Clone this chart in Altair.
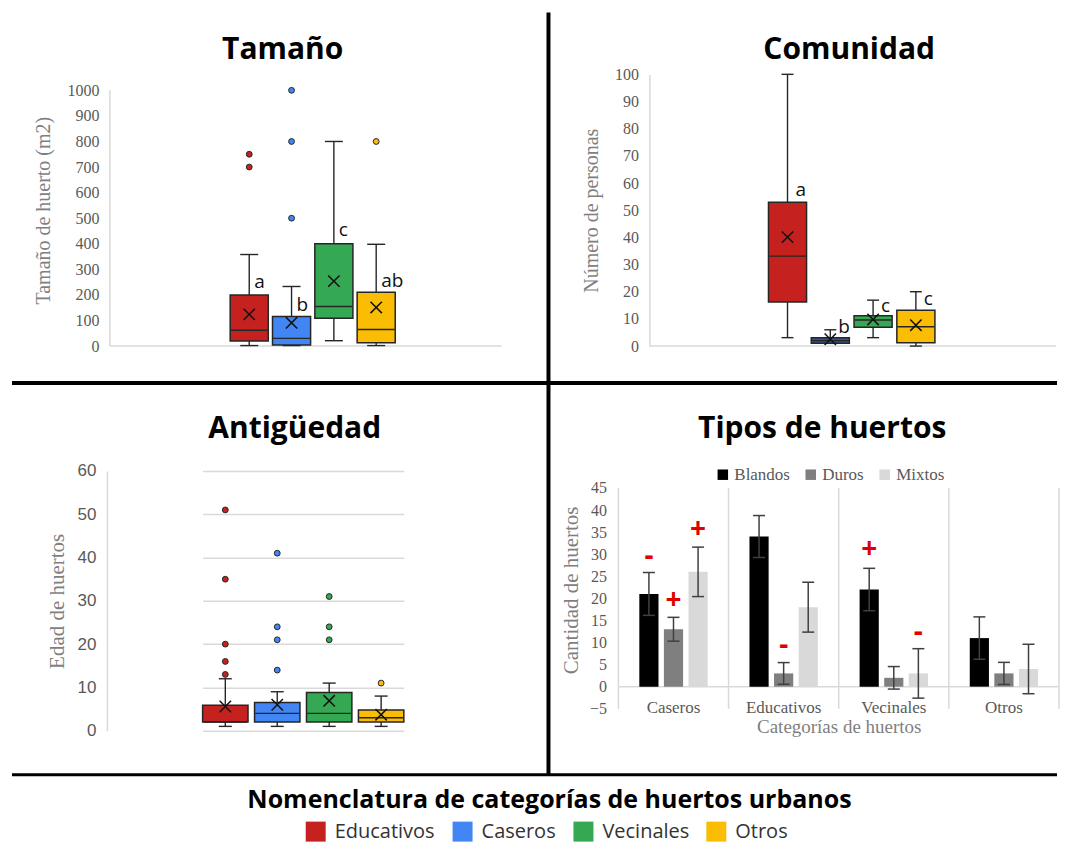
import altair as alt
import pandas as pd

# ---------------- data ----------------
categories = ["Educativos", "Caseros", "Vecinales", "Otros"]
colors_main = ["#c5221f", "#4285f4", "#34a853", "#fbbc04"]
colors_comunidad = ["#c5221f", "#2f5597", "#34a853", "#fbbc04"]

# Tamaño (m2)
tam_lo = [2, 2, 21, 2]
tam_q1 = [20, 4, 109, 13]
tam_median = [62, 30, 155, 65]
tam_q3 = [200, 116, 400, 210]
tam_hi = [358, 233, 800, 398]
tam_mean = [124, 91, 254, 151]
tam_out_cat = ["Educativos", "Educativos", "Caseros", "Caseros", "Caseros", "Otros"]
tam_out_val = [750, 700, 1000, 800, 500, 800]
tam_letters = ["a", "b", "c", "ab"]
tam_letter_y = [249, 161, 453, 254]

# Comunidad (número de personas)
com_lo = [3.1, 1.0, 3.1, 0.0]
com_q1 = [16.2, 1.0, 6.9, 1.2]
com_median = [33.1, 2.0, 9.6, 7.1]
com_q3 = [52.9, 3.1, 11.2, 13.2]
com_hi = [100, 6, 16.9, 20]
com_mean = [40.1, 2.5, 9.8, 7.7]
com_letters = ["a", "b", "c", "c"]
com_letter_y = [57.6, 6.9, 14.7, 17.2]

# Antigüedad (edad de huertos)
ant_lo = [1, 1, 1, 1]
ant_q1 = [2, 2, 2, 2]
ant_median = [2, 4, 4, 3]
ant_q3 = [5.9, 6.5, 8.8, 4.8]
ant_hi = [12, 9, 11, 8]
ant_mean = [5.6, 6.0, 6.9, 3.7]
ant_out_cat = ["Educativos"] * 5 + ["Caseros"] * 4 + ["Vecinales"] * 3 + ["Otros"]
ant_out_val = [51, 35, 20, 16, 13, 41, 24, 21, 14, 31, 24, 21, 11]

# Tipos de huertos
tipo_categories = ["Caseros", "Educativos", "Vecinales", "Otros"]
tipo_series = ["Blandos", "Duros", "Mixtos"]
tipo_colors = ["#000000", "#7f7f7f", "#d9d9d9"]
blandos = [21, 34, 22, 11]
blandos_err = [4.85, 4.75, 4.8, 4.8]
duros = [13, 3, 2, 3]
duros_err = [2.7, 2.45, 2.55, 2.5]
mixtos = [26, 18, 3, 4]
mixtos_err = [5.6, 5.65, 5.6, 5.6]
sign_cat = ["Caseros", "Caseros", "Caseros", "Educativos", "Vecinales", "Vecinales"]
sign_series = ["Blandos", "Duros", "Mixtos", "Duros", "Blandos", "Mixtos"]
sign_text = ["-", "+", "+", "-", "+", "-"]
sign_y = [29.4, 19.3, 35.5, 9.3, 30.9, 12.1]

# ---------------- styles ----------------
SERIF = "Liberation Serif"
SANS = "Open Sans"
ARIAL = "Liberation Sans"
GRID = "#d9d9d9"
DARK = "#262626"
LABEL = "#595959"
TITLEC = "#7f7f7f"
XSHAPE = "M-1,-1L1,1M-1,1L1,-1"
one = pd.DataFrame({"k": [0]})


def box_layers(stats, outliers, colors, ydomain, xrange, pad_inner, cap, yaxis,
               letter_dx, legend=None):
    xs = alt.X("cat:N", scale=alt.Scale(domain=categories, range=xrange,
                                        paddingInner=pad_inner, paddingOuter=0), axis=None)
    ys = alt.Scale(domain=ydomain, nice=False, zero=False)
    col = alt.Color("cat:N", scale=alt.Scale(domain=categories, range=colors), legend=legend)
    bw = (xrange[1] - xrange[0]) / (len(categories)) * (1 - pad_inner)
    base = alt.Chart(stats)
    layers = [
        base.mark_rule(color=DARK, strokeWidth=1.4).encode(
            x=xs, y=alt.Y("lo:Q", scale=ys, axis=yaxis), y2="q1:Q"),
        base.mark_rule(color=DARK, strokeWidth=1.4).encode(
            x=xs, y=alt.Y("q3:Q", scale=ys, axis=yaxis), y2="hi:Q"),
        base.mark_tick(color=DARK, thickness=1.4, size=cap, opacity=1).encode(
            x=xs, y=alt.Y("lo:Q", scale=ys, axis=yaxis)),
        base.mark_tick(color=DARK, thickness=1.4, size=cap, opacity=1).encode(
            x=xs, y=alt.Y("hi:Q", scale=ys, axis=yaxis)),
        base.mark_bar(stroke=DARK, strokeWidth=1.5, opacity=1).encode(
            x=xs, y=alt.Y("q1:Q", scale=ys, axis=yaxis), y2="q3:Q", color=col),
        base.mark_tick(color=DARK, thickness=1.4, size=bw, opacity=1).encode(
            x=xs, y=alt.Y("median:Q", scale=ys, axis=yaxis)),
        base.mark_point(shape=XSHAPE, size=130, filled=False, color="#111111",
                        strokeWidth=1.5, opacity=1).encode(
            x=xs, y=alt.Y("mean:Q", scale=ys, axis=yaxis)),
        base.mark_text(align="left", baseline="middle", dx=letter_dx, font=SANS,
                       fontSize=19, color="#111111").encode(
            x=xs, y=alt.Y("letter_y:Q", scale=ys, axis=yaxis), text="letter:N"),
    ]
    if outliers is not None:
        layers.append(
            alt.Chart(outliers).mark_point(shape="circle", filled=True, size=34,
                                           stroke=DARK, strokeWidth=1, opacity=1).encode(
                x=xs, y=alt.Y("val:Q", scale=ys, axis=yaxis), color=col))
    return layers


def title_text(text, x, y, size=30):
    return alt.Chart(one).mark_text(text=text, font=SANS, fontSize=size, fontWeight="bold",
                                    align="center", baseline="alphabetic",
                                    color="#000000").encode(x=alt.value(x), y=alt.value(y))


def rule_px(x, x2, y, y2, width):
    return alt.Chart(one).mark_rule(color="#000000", strokeWidth=width, clip=False).encode(
        x=alt.value(x), x2=alt.value(x2), y=alt.value(y), y2=alt.value(y2))


# ---------------- Tamaño ----------------
tam_stats = pd.DataFrame({"cat": categories, "lo": tam_lo, "q1": tam_q1, "median": tam_median,
                          "q3": tam_q3, "hi": tam_hi, "mean": tam_mean,
                          "letter": tam_letters, "letter_y": tam_letter_y})
tam_outs = pd.DataFrame({"cat": tam_out_cat, "val": tam_out_val})
tam_axis = alt.Axis(values=list(range(0, 1001, 100)), format="d", title="Tamaño de huerto (m2)",
                    grid=False, domain=False, ticks=False, offset=-3,
                    labelFont=SERIF, labelFontSize=16, labelColor=LABEL, labelPadding=11,
                    titleFont=SERIF, titleFontSize=20, titleColor=TITLEC,
                    titleFontWeight="normal", titlePadding=13)
tam_ys = alt.Scale(domain=[0, 1062.5], nice=False, zero=False)
tl = alt.layer(
    alt.Chart(one).mark_rule(color=GRID, strokeWidth=1.5).encode(
        x=alt.value(3), y=alt.Y(datum=0, scale=tam_ys, axis=tam_axis), y2=alt.datum(1000)),
    alt.Chart(one).mark_rule(color=GRID, strokeWidth=1.5).encode(
        x=alt.value(3), x2=alt.value(395), y=alt.Y(datum=0, scale=tam_ys, axis=tam_axis)),
    *box_layers(tam_stats, tam_outs, colors_main, [0, 1062.5], [123.4, 288.6], 0.1, 18,
                tam_axis, 5),
    title_text("Tamaño", 176, -15),
    rule_px(-95, 951, 309, 309, 4),
    rule_px(-95, 951, 701, 701, 3),
).properties(width=397, height=272)

# ---------------- Comunidad ----------------
com_stats = pd.DataFrame({"cat": categories, "lo": com_lo, "q1": com_q1, "median": com_median,
                          "q3": com_q3, "hi": com_hi, "mean": com_mean,
                          "letter": com_letters, "letter_y": com_letter_y})
com_axis = alt.Axis(values=list(range(0, 101, 10)), format="d", title="Número de personas",
                    grid=False, domain=True, domainColor=GRID, domainWidth=1.5,
                    ticks=False, offset=-31,
                    labelFont=SERIF, labelFontSize=16, labelColor=LABEL, labelPadding=11,
                    titleFont=SERIF, titleFontSize=20, titleColor=TITLEC,
                    titleFontWeight="normal", titlePadding=13)
com_ys = alt.Scale(domain=[0, 100], nice=False, zero=False)
tr = alt.layer(
    alt.Chart(one).mark_rule(color=GRID, strokeWidth=1.5).encode(
        x=alt.value(31), x2=alt.value(438), y=alt.Y(datum=0, scale=com_ys, axis=com_axis)),
    *box_layers(com_stats, None, colors_comunidad, [0, 100], [150.2, 316.8], 0.11, 12,
                com_axis, 8),
    title_text("Comunidad", 231, -15),
    rule_px(-70, -70, -62, 701, 4),
).properties(width=441, height=272)

# ---------------- Antigüedad ----------------
ant_stats = pd.DataFrame({"cat": categories, "lo": ant_lo, "q1": ant_q1, "median": ant_median,
                          "q3": ant_q3, "hi": ant_hi, "mean": ant_mean,
                          "letter": [""] * 4, "letter_y": ant_q3})
ant_outs = pd.DataFrame({"cat": ant_out_cat, "val": ant_out_val})
ant_axis = alt.Axis(values=list(range(0, 61, 10)), format="d", title="Edad de huertos",
                    grid=True, gridColor=GRID, gridWidth=1.5,
                    domain=True, domainColor=GRID, domainWidth=1.5, ticks=False,
                    labelFont=ARIAL, labelFontSize=17, labelColor=LABEL, labelPadding=11,
                    titleFont=SERIF, titleFontSize=21, titleColor=TITLEC,
                    titleFontWeight="normal", titlePadding=10)
cat_legend = alt.Legend(orient="none", legendX=199, legendY=351, direction="horizontal",
                        title=None, symbolType="square", symbolSize=400,
                        symbolStrokeWidth=0, symbolOpacity=1, labelLimit=400,
                        labelFont=SANS, labelFontSize=20, labelColor="#333333",
                        labelOffset=9, columnPadding=17)
bl = alt.layer(
    *box_layers(ant_stats, ant_outs, colors_main, [0, 60], [95.8, 297.2], 0.126, 13,
                ant_axis, 5, legend=cat_legend),
    title_text("Antigüedad", 188, -33),
    title_text("Nomenclatura de categorías de huertos urbanos", 443, 337, size=25),
).properties(width=397, height=260)

# ---------------- Tipos de huertos ----------------
rows = []
for s, vals, errs in [("Blandos", blandos, blandos_err), ("Duros", duros, duros_err),
                      ("Mixtos", mixtos, mixtos_err)]:
    for c, v, e in zip(tipo_categories, vals, errs):
        rows.append({"cat": c, "serie": s, "val": v, "lo": v - e, "hi": v + e})
tipos = pd.DataFrame(rows)
signs = pd.DataFrame({"cat": sign_cat, "serie": sign_series, "sign": sign_text, "y": sign_y})

t_ys = alt.Scale(domain=[-5, 48.85], nice=False, zero=False)
t_yaxis = alt.Axis(values=list(range(-5, 46, 5)), format="d", title="Cantidad de huertos",
                   grid=False, domain=False, ticks=False,
                   labelFont=SERIF, labelFontSize=16, labelColor=LABEL, labelPadding=12,
                   titleFont=SERIF, titleFontSize=21, titleColor=TITLEC,
                   titleFontWeight="normal", titlePadding=8)
t_xaxis = alt.Axis(title="Categorías de huertos", domain=False, ticks=False, labelAngle=0,
                   labelFont=SERIF, labelFontSize=17, labelColor=LABEL, labelPadding=-1,
                   labelBaseline="middle",
                   titleFont=SERIF, titleFontSize=19, titleColor=TITLEC,
                   titleFontWeight="normal", titlePadding=2)
t_xscale = alt.Scale(domain=tipo_categories, paddingInner=0, paddingOuter=0)
t_x = alt.X("cat:N", scale=t_xscale, axis=t_xaxis)
t_xoff = alt.XOffset("serie:N", scale=alt.Scale(domain=tipo_series, paddingInner=0.22,
                                                 paddingOuter=0.85))
t_legend = alt.Legend(orient="none", legendX=96, legendY=-5, direction="horizontal",
                      title=None, symbolType="square", symbolSize=110, symbolStrokeWidth=0,
                      labelFont=SERIF, labelFontSize=17, labelColor=LABEL, labelOffset=3,
                      columnPadding=12, labelLimit=300)
t_col = alt.Color("serie:N", scale=alt.Scale(domain=tipo_series, range=tipo_colors),
                  legend=t_legend)
sep = pd.DataFrame({"cat": tipo_categories})
br = alt.layer(
    alt.Chart(sep).mark_rule(color=GRID, strokeWidth=1.5).encode(
        x=alt.X("cat:N", bandPosition=0, scale=t_xscale, axis=t_xaxis),
        y=alt.Y(datum=-5, scale=t_ys, axis=t_yaxis), y2=alt.datum(45)),
    alt.Chart(one).mark_rule(color=GRID, strokeWidth=1.5).encode(
        x=alt.value(441), y=alt.Y(datum=-5, scale=t_ys, axis=t_yaxis), y2=alt.datum(45)),
    alt.Chart(one).mark_rule(color=GRID, strokeWidth=1.5).encode(
        x=alt.value(0), x2=alt.value(441), y=alt.Y(datum=0, scale=t_ys, axis=t_yaxis)),
    alt.Chart(tipos).mark_bar(opacity=1).encode(
        x=t_x, xOffset=t_xoff, y=alt.Y("val:Q", scale=t_ys, axis=t_yaxis),
        y2=alt.datum(0), color=t_col),
    alt.Chart(tipos).mark_rule(color="#404040", strokeWidth=1.5).encode(
        x=t_x, xOffset=t_xoff, y=alt.Y("lo:Q", scale=t_ys, axis=t_yaxis), y2="hi:Q"),
    alt.Chart(tipos).mark_tick(color="#404040", thickness=1.5, size=12, opacity=1).encode(
        x=t_x, xOffset=t_xoff, y=alt.Y("lo:Q", scale=t_ys, axis=t_yaxis)),
    alt.Chart(tipos).mark_tick(color="#404040", thickness=1.5, size=12, opacity=1).encode(
        x=t_x, xOffset=t_xoff, y=alt.Y("hi:Q", scale=t_ys, axis=t_yaxis)),
    alt.Chart(signs).mark_text(font=SANS, fontSize=28, fontWeight="bold", color="#e00000",
                               baseline="middle", align="center").encode(
        x=t_x, xOffset=t_xoff, y=alt.Y("y:Q", scale=t_ys, axis=t_yaxis), text="sign:N"),
    title_text("Tipos de huertos", 204, -33),
).properties(width=441, height=238)

chart = alt.concat(
    tl, tr, bl, br, columns=2, spacing={"row": 125, "column": 115},
    bounds="flush", align="each"
).resolve_scale(
    color="independent", x="independent", y="independent", xOffset="independent"
).properties(
    padding={"left": 2, "top": 2, "right": 0, "bottom": 0}, background="white"
).configure_view(stroke=None)

chart.save("out.html", embed_options={"renderer": "svg", "actions": False})
